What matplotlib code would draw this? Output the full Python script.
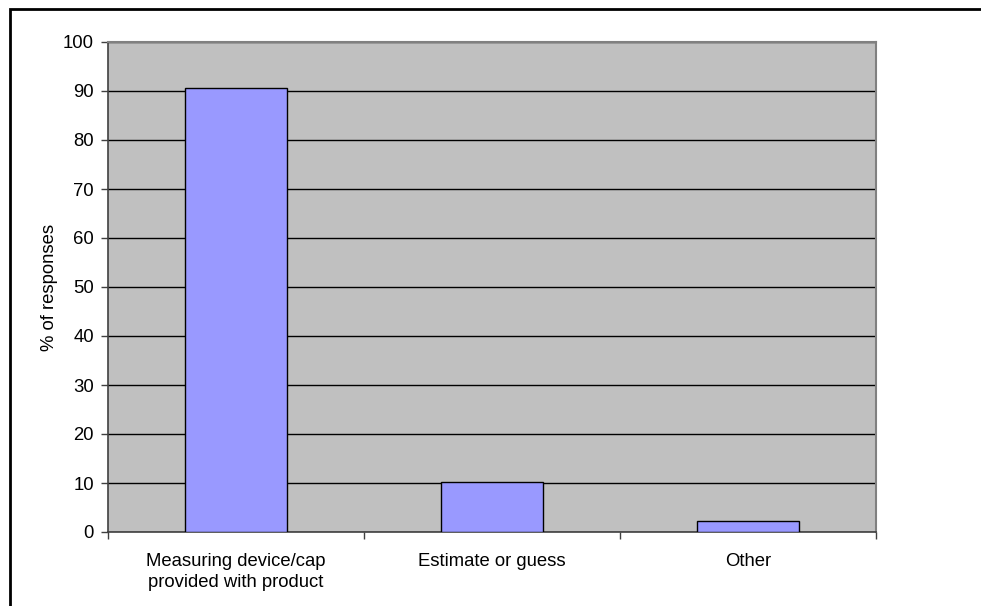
import matplotlib
matplotlib.use("Agg")
import matplotlib.pyplot as plt
from matplotlib.patches import Rectangle

categories = ["Measuring device/cap\nprovided with product", "Estimate or guess", "Other"]
values = [90.7, 10.2, 2.2]
yticks = [0, 10, 20, 30, 40, 50, 60, 70, 80, 90, 100]

plt.rcParams["font.family"] = ["Liberation Sans", "DejaVu Sans"]
FS = 13.3

W, H = 981, 606
fig = plt.figure(figsize=(W / 100, H / 100), dpi=100)

# outer chart frame (open to the right and bottom)
fig.patches.append(Rectangle((9.5 / W, -0.1), 2.0, 1 - 9 / H + 0.1,
                             transform=fig.transFigure, fill=False,
                             edgecolor="black", linewidth=2.0))

left, right, top, bottom = 108, 876, 42, 532
ax = fig.add_axes([left / W, 1 - bottom / H, (right - left) / W, (bottom - top) / H])
ax.set_facecolor("#C0C0C0")

x = list(range(len(categories)))
ax.bar(x, values, width=0.4, color="#9999FF", edgecolor="black", linewidth=1.0, zorder=3)

ax.set_xlim(-0.5, len(categories) - 0.5)
ax.set_ylim(0, 100)
ax.set_yticks(yticks)
ax.set_yticklabels([str(v) for v in yticks], fontsize=FS)
ax.yaxis.grid(True, color="black", linewidth=1.0, zorder=1)
ax.set_axisbelow(True)

# category boundaries carry the tick marks, labels sit at centres
ax.set_xticks([i - 0.5 for i in range(len(categories) + 1)])
ax.set_xticklabels([])
ax.set_xticks(x, minor=True)
ax.set_xticklabels(categories, minor=True, fontsize=FS, linespacing=1.35)
ax.tick_params(axis="x", which="minor", length=0, pad=15)
ax.tick_params(axis="x", which="major", length=5, width=1.0, color="#404040", direction="out")
ax.tick_params(axis="y", length=5, width=1.0, color="#404040", direction="out", pad=5)

for side in ("top", "right"):
    ax.spines[side].set_color("#808080")
    ax.spines[side].set_linewidth(1.5)
for side in ("left", "bottom"):
    ax.spines[side].set_color("#404040")
    ax.spines[side].set_linewidth(1.2)

ax.set_ylabel("% of responses", fontsize=FS, labelpad=4)

fig.savefig("out.png", dpi=100, facecolor="white")
